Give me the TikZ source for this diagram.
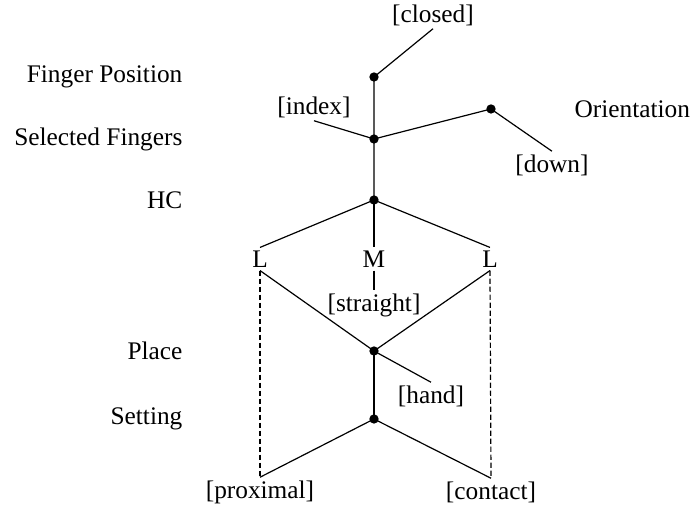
\documentclass[tikz,border=0pt]{standalone}
\usepackage{fontspec}
\setmainfont{Liberation Serif}
\tikzset{
    dot/.style={circle, fill, inner sep=0pt, minimum size=7pt},
    feat/.style={inner sep=2pt, font=\fontsize{19}{21}\selectfont},
    tier/.style={anchor=east, inner sep=0pt, font=\fontsize{19}{21}\selectfont},
    link/.style={dash pattern=on 4pt off 2pt}
}
\begin{document}
\begin{tikzpicture}[x=0.75pt, y=-0.75pt, line width=0.9pt]
        \useasboundingbox (0, 0) rectangle (694, 509);
        
        % Tiers
        \node[tier] (tfp) at (183, 77) {Finger Position};
        \node[tier] (tsf) at (183, 139) {Selected Fingers};
        \node[tier] (thc) at (183, 200) {HC};
        \node[tier] (tpl) at (183, 351) {Place};
        \node[tier] (tst) at (183, 419) {Setting};
        \node[tier, anchor=west] (tor) at (574, 109) {Orientation};
        
        % Class nodes
        \node[dot] (fp) at (374, 77) {};
        \node[dot] (sf) at (374, 139) {};
        \node[dot] (or) at (491, 109) {};
        \node[dot] (hc) at (374, 200) {};
        \node[dot] (pl) at (374, 351) {};
        \node[dot] (st) at (374, 419) {};
        
        % Features
        \node[feat] (closed) at (433, 15) {[closed]};
        \node[feat] (index) at (314, 107) {[index]};
        \node[feat] (down) at (552, 165) {[down]};
        \node[feat] (ll) at (260, 259) {L};
        \node[feat] (mm) at (374, 259) {M};
        \node[feat] (lr) at (490, 259) {L};
        \node[feat] (straight) at (374, 305) {[straight]};
        \node[feat] (hand) at (431, 396) {[hand]};
        \node[feat] (prox) at (260, 492) {[proximal]};
        \node[feat] (cont) at (491, 492) {[contact]};
        
        % Hand configuration
        \draw (closed.south) -- (fp.center) -- (sf.center) -- (hc.center);
        \draw (index.south) -- (sf.center) -- (or.center) -- (down.north);
        \draw (hc.center) -- (ll.north);
        \draw (hc.center) -- (mm.north);
        \draw (hc.center) -- (lr.north);
        \draw (mm.south) -- (straight.north);
        
        % Place of articulation
        \draw (ll.south) -- (pl.center) -- (lr.south);
        \draw (pl.center) -- (hand.north);
        \draw (pl.center) -- (st.center);
        \draw (prox.north) -- (st.center) -- (cont.north);
        \draw[link] (ll.south) -- (prox.north);
        \draw[link] (lr.south) -- (cont.north);
    \end{tikzpicture}
\end{document}
